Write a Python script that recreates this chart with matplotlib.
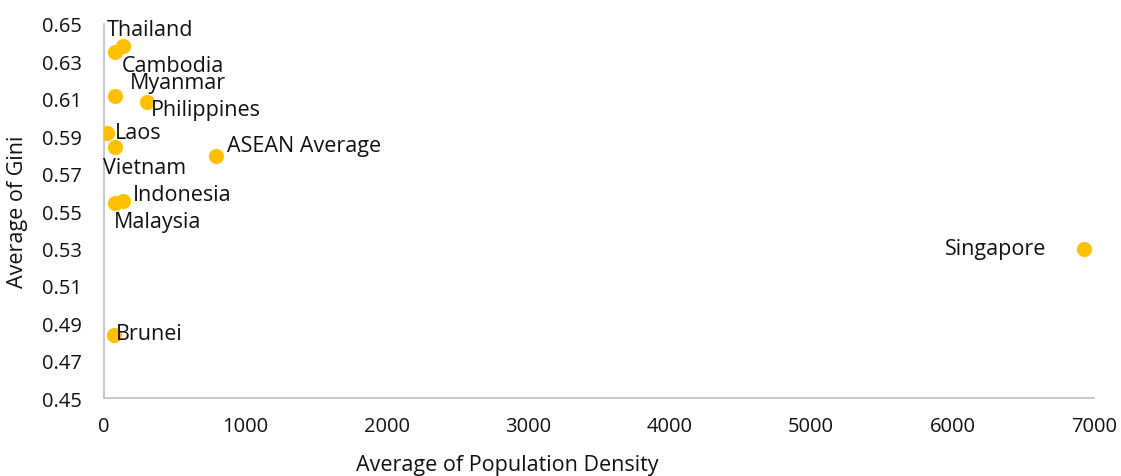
import matplotlib.pyplot as plt

plt.rcParams['font.family'] = ['Open Sans', 'DejaVu Sans']

countries = ['Thailand', 'Cambodia', 'Myanmar', 'Philippines', 'Laos', 'Vietnam',
             'ASEAN Average', 'Indonesia', 'Malaysia', 'Singapore', 'Brunei']
density = [134, 78, 78, 304, 21, 78, 792, 134, 78, 6931, 71]
gini = [0.6385, 0.6350, 0.6117, 0.6082, 0.5917, 0.5842, 0.5794, 0.5553, 0.5543, 0.5297, 0.4837]

# label offsets in pixels (dx, dy) and horizontal alignment
label_pos = {
    'Thailand': (-16, 16, 'left'),
    'Cambodia': (7, -13, 'left'),
    'Myanmar': (15, 13, 'left'),
    'Philippines': (4, -7, 'left'),
    'Laos': (8, 1, 'left'),
    'Vietnam': (-12, -20, 'left'),
    'ASEAN Average': (11, 11, 'left'),
    'Indonesia': (10, 7, 'left'),
    'Malaysia': (-1, -19, 'left'),
    'Singapore': (-38, 0, 'right'),
    'Brunei': (2, 1, 'left'),
}

fig = plt.figure(figsize=(11.21, 4.77), dpi=100)
ax = fig.add_axes([0.0928, 0.1635, 0.8831, 0.7841])

ax.scatter(density, gini, s=120, color='#FFC000', zorder=3, linewidths=0)

for name, x, y in zip(countries, density, gini):
    dx, dy, ha = label_pos[name]
    ax.annotate(name, (x, y), xytext=(dx, dy), textcoords='offset pixels',
                ha=ha, va='center', fontsize=15.5, color='#111111')

ax.set_xlim(0, 7000)
ax.set_ylim(0.45, 0.65)
ax.set_xticks(range(0, 7001, 1000))
ax.set_yticks([0.45 + 0.02 * i for i in range(11)])
ax.set_yticklabels([f'{0.45 + 0.02 * i:.2f}' for i in range(11)])

for side in ['top', 'right']:
    ax.spines[side].set_visible(False)
for side in ['left', 'bottom']:
    ax.spines[side].set_color('#BFBFBF')
    ax.spines[side].set_linewidth(1.2)

ax.tick_params(length=0, labelsize=14.5, colors='#111111')
ax.tick_params(axis='y', pad=16)
ax.tick_params(axis='x', pad=13)

ax.set_ylabel('Average of Gini', fontsize=15.5, color='#111111', labelpad=10)
fig.text(507 / 1121, 1 - 466 / 477, 'Average of Population Density',
         ha='center', va='center', fontsize=15.5, color='#111111')

fig.savefig('out.png', dpi=100)
